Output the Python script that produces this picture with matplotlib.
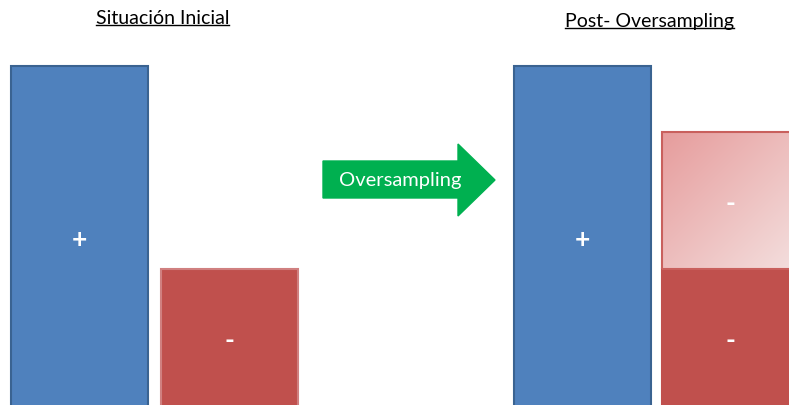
import numpy as np
import matplotlib
matplotlib.use("Agg")
import matplotlib.pyplot as plt
from matplotlib.patches import Polygon, Rectangle

plt.rcParams['font.family'] = ['Lato', 'DejaVu Sans']

# Data (class sizes, in drawing units)
titles = ["Situación Inicial", "Post- Oversampling"]
class_labels = ["+", "-"]
initial_counts = [344, 141]      # positive, negative
synthetic_count = 137            # oversampled negative examples
arrow_label = "Oversampling"

W, H = 789, 406
fig = plt.figure(figsize=(W / 100, H / 100), dpi=100)
ax = fig.add_axes([0, 0, 1, 1])
ax.set_xlim(0, W)
ax.set_ylim(0, H)
ax.axis('off')

blue, blue_edge = '#4F81BD', '#3A6391'
red, red_edge = '#C0504D', '#B5403D'
bw = 137
base = -5

# Left panel
left_x = [11 + bw / 2, 161 + bw / 2]
ax.bar(left_x, initial_counts, width=bw, bottom=base, color=[blue, red],
       edgecolor=[blue_edge, '#D08080'], linewidth=1.5, zorder=2)

# Right panel
right_x = [514 + bw / 2, 662 + bw / 2]
ax.bar(right_x, initial_counts, width=bw, bottom=base, color=[blue, red],
       edgecolor=[blue_edge, red], linewidth=1.5, zorder=2)

# Synthetic (gradient) block stacked on the negative class
x0 = right_x[1] - bw / 2
y0 = base + initial_counts[1]
y1 = y0 + synthetic_count
gx, gy = np.meshgrid(np.linspace(0, 1, 200), np.linspace(0, 1, 200))
t = np.clip((gx + gy) / 2, 0, 1)  # 0 at top-left, 1 at bottom-right (origin upper)
c0 = np.array([0xE6, 0x9C, 0x9C]) / 255
c1 = np.array([0xF4, 0xE0, 0xDF]) / 255
img = c0[None, None, :] * (1 - t[..., None]) + c1[None, None, :] * t[..., None]
ax.imshow(img, extent=[x0, x0 + bw, y0, y1], origin='upper', aspect='auto', zorder=2)
ax.add_patch(Rectangle((x0, y0), bw, synthetic_count, fill=False,
                       edgecolor='#C9605D', linewidth=1.5, zorder=3))
ax.set_xlim(0, W)
ax.set_ylim(0, H)

# Class labels
lab_kw = dict(color='white', fontsize=19, fontweight='bold', ha='center', va='center', zorder=4)
ax.text(left_x[0], H - 240, class_labels[0], **lab_kw)
ax.text(left_x[1], H - 341, class_labels[1], **lab_kw)
ax.text(right_x[0], H - 240, class_labels[0], **lab_kw)
ax.text(right_x[1], H - 341, class_labels[1], **lab_kw)
ax.text(right_x[1], H - 204, class_labels[1], **lab_kw)

# Arrow
verts = [(323, H - 162), (458, H - 162), (458, H - 145), (495, H - 181),
         (458, H - 217), (458, H - 199), (323, H - 199)]
ax.add_patch(Polygon(verts, closed=True, facecolor='#00B050',
                     edgecolor='#00B050', zorder=2))
ax.text(400, H - 181, arrow_label, color='white', fontsize=14.5,
        ha='center', va='center', zorder=4)

# Titles with underline
t1 = ax.text(162.5, H - 19, titles[0], fontsize=14, ha='center', va='center', color='black')
t2 = ax.text(650, H - 22, titles[1], fontsize=14, ha='center', va='center', color='black')
fig.canvas.draw()
r = fig.canvas.get_renderer()
inv = ax.transData.inverted()
for t_ in (t1, t2):
    bb = t_.get_window_extent(renderer=r)
    (xa, ya), (xb, yb) = inv.transform([(bb.x0, bb.y0), (bb.x1, bb.y1)])
    ax.plot([xa, xb], [ya + 1.5, ya + 1.5], color='black', linewidth=1.0)

fig.savefig('out.png', dpi=100)
